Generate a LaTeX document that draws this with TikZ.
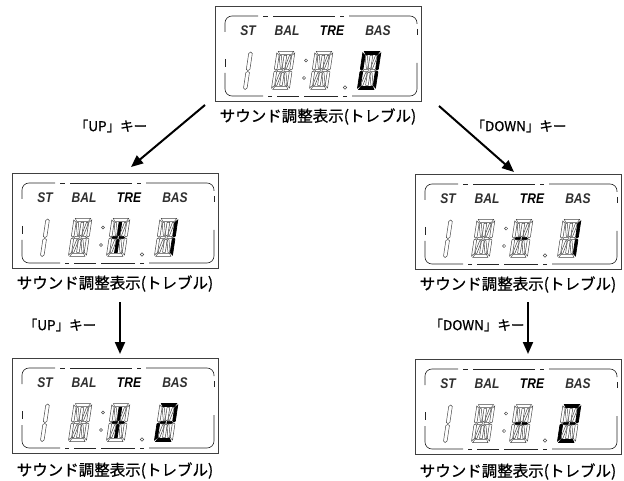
\documentclass[tikz,border=0pt]{standalone}
\usepackage{fontspec}
\newfontfamily\jpfont{Noto Sans CJK JP}[FakeBold=0.8]
\newfontfamily\lcdfont{Liberation Sans}[FakeStretch=0.86]
\usetikzlibrary{arrows.meta,calc}
\tikzset{
  segoff/.style={draw=black!72, line width=0.5pt, fill=white},
  segon/.style={draw=black, line width=0.7pt, fill=black},
  outerbox/.style={draw=black!75, line width=0.9pt, minimum width=206pt, minimum height=95pt, inner sep=0pt, outer sep=0pt},
  innerline/.style={draw=black!85, line width=0.65pt},
  lcdtxt/.style={font=\lcdfont\bfseries\itshape\fontsize{14}{15}\selectfont, inner sep=0pt},
  jplabel/.style={font=\jpfont\fontsize{15.5}{18}\selectfont, inner sep=0pt},
  keytxt/.style={font=\jpfont\fontsize{13.5}{15}\selectfont, inner sep=0pt},
  arr/.style={line width=2pt, -{Triangle[length=12pt,width=10pt]}},
}
\makeatletter
\newcommand\segpoly[3]{\in@{#1}{#2}\ifin@\path[segon] #3;\else\path[segoff] #3;\fi}
\makeatother
\newcommand\lcdchar[3]{%
\begin{scope}[shift={(#1,#2)},xslant=0.15,xscale=0.9]
\segpoly{a}{#3}{(1.5,0) -- (18.5,0) -- (16.5,3) -- (3.5,3) -- cycle}
\segpoly{d}{#3}{(3.5,35) -- (16.5,35) -- (18.5,38) -- (1.5,38) -- cycle}
\segpoly{f}{#3}{(0,1.5) -- (3,4) -- (3,17.5) -- (1.5,18.5) -- (0,17.5) -- cycle}
\segpoly{e}{#3}{(0,20.5) -- (1.5,19.5) -- (3,20.5) -- (3,34) -- (0,36.5) -- cycle}
\segpoly{b}{#3}{(20,1.5) -- (17,4) -- (17,17.5) -- (18.5,18.5) -- (20,17.5) -- cycle}
\segpoly{c}{#3}{(20,20.5) -- (18.5,19.5) -- (17,20.5) -- (17,34) -- (20,36.5) -- cycle}
\segpoly{g}{#3}{(3,19) -- (4.5,17.8) -- (9,17.8) -- (9,20.2) -- (4.5,20.2) -- cycle}
\segpoly{n}{#3}{(17,19) -- (15.5,17.8) -- (11,17.8) -- (11,20.2) -- (15.5,20.2) -- cycle}
\segpoly{i}{#3}{(8.5,4) -- (11.5,4) -- (11.5,16.5) -- (10,17.3) -- (8.5,16.5) -- cycle}
\segpoly{l}{#3}{(8.5,21.5) -- (10,20.7) -- (11.5,21.5) -- (11.5,34) -- (8.5,34) -- cycle}
\segpoly{h}{#3}{(3.8,4) -- (5.5,4) -- (8,13.5) -- (8,16.8) -- (6.5,16.8) -- (3.8,7) -- cycle}
\segpoly{j}{#3}{(16.2,4) -- (14.5,4) -- (12,13.5) -- (12,16.8) -- (13.5,16.8) -- (16.2,7) -- cycle}
\segpoly{k}{#3}{(3.8,34) -- (5.5,34) -- (8,24.5) -- (8,21.2) -- (6.5,21.2) -- (3.8,31) -- cycle}
\segpoly{m}{#3}{(16.2,34) -- (14.5,34) -- (12,24.5) -- (12,21.2) -- (13.5,21.2) -- (16.2,31) -- cycle}
\end{scope}}
\newcommand\lcdhalf[2]{%
\begin{scope}[shift={(#1,#2)},xslant=0.15,xscale=0.9]
\path[segoff] (0,2) -- (2,0.5) -- (4,2) -- (4,18) -- (2,19) -- (0,18) -- cycle;
\path[segoff] (0,21) -- (2,20) -- (4,21) -- (4,36.5) -- (2,38) -- (0,36.5) -- cycle;
\end{scope}}
\newcommand\lcdpanel[6]{%
\node[outerbox, anchor=north west] (#1) at (#2,#3) {};
\begin{scope}[shift={(#2,#3)}]
 \draw[innerline, rounded corners=7pt] (10,26) -- (10,10) -- (43,10);
 \draw[innerline] (48,10) -- (53,10) (58,10) -- (120,10) (125,10) -- (129,10);
 \draw[innerline, rounded corners=7pt] (134,10) -- (202,10) -- (202,18);
 \draw[innerline] (202,23) -- (202,29) (10,53) -- (10,61);
 \draw[innerline, rounded corners=7pt] (202,57) -- (202,90) -- (137,90);
 \draw[innerline] (132,90) -- (128,90) (123,90) -- (89,90) (84,90) -- (62,90) (57,90) -- (53,90);
 \draw[innerline, rounded corners=7pt] (48,90) -- (10,90) -- (10,67);
 \node[lcdtxt, text=black!82] at (33,25) {ST};
 \node[lcdtxt, text=black!82] at (72,25) {BAL};
 \node[lcdtxt, text=black] at (117,25) {TRE};
 \node[lcdtxt, text=black!82] at (163,25) {BAS};
 \lcdhalf{34}{45.5}
 \lcdchar{62}{45.5}{}
 \path[segoff] (91,54.5) circle[radius=1.6];
 \path[segoff] (89,72) circle[radius=1.6];
 \lcdchar{100}{45.5}{#4}
 \path[segoff] (130,81.5) circle[radius=1.7];
 \lcdchar{148}{45.5}{#5}
\end{scope}
\node[jplabel] (#1t) at ($(#1.south)+(0,#6)$) {サウンド調整表示(トレブル)};
}
\begin{document}
\begin{tikzpicture}[x=1pt,y=-1pt]
\useasboundingbox (0,0) rectangle (624,481);
\lcdpanel{p0}{215}{6}{}{abcdef}{15.5}
\lcdpanel{p1}{12}{173}{gnil}{bc}{15.5}
\lcdpanel{p2}{415}{174}{gn}{bc}{15.5}
\lcdpanel{p3}{12}{358}{gnil}{abgned}{17.5}
\lcdpanel{p4}{415}{359}{gn}{abgned}{17.5}
\coordinate (a1s) at (205,105);
\coordinate (a1e) at (131,167);
\coordinate (a2s) at (439,106);
\coordinate (a2e) at (514,172);
\coordinate (a3s) at (120,302);
\coordinate (a3e) at (120,354);
\coordinate (a4s) at (528,302);
\coordinate (a4e) at (528,354);
\draw[arr] (a1s) -- (a1e);
\draw[arr] (a2s) -- (a2e);
\draw[arr] (a3s) -- (a3e);
\draw[arr] (a4s) -- (a4e);
\node[keytxt] (k1) at (111,126) {「UP」キー};
\node[keytxt] (k2) at (519,126) {「DOWN」キー};
\node[keytxt] (k3) at (60,325) {「UP」キー};
\node[keytxt] (k4) at (477,325) {「DOWN」キー};
\end{tikzpicture}
\end{document}
